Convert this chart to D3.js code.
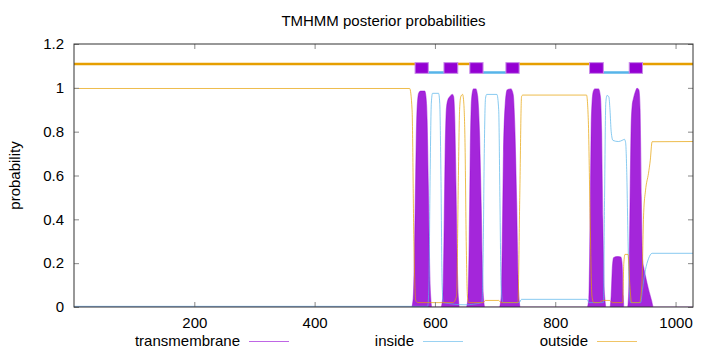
<!DOCTYPE html>
<html>
<head>
<meta charset="utf-8">
<script src="https://cdn.jsdelivr.net/npm/d3@7"></script>
<style>
  body { margin: 0; background: #fff; }
  text { font-family: "Liberation Sans", Arial, sans-serif; }
</style>
</head>
<body>
<div id="chart"></div>
<script>
// posterior probabilities, [residue, probability]
const tmProb = [
  [0, 0], [561, 0], [564, 0.04], [566, 0.25], [568, 0.6], [570, 0.88], [573, 0.975], [576, 0.985], [583, 0.985],
  [585, 0.96], [587, 0.85], [589, 0.55], [591, 0.2], [593, 0.04], [595, 0],
  [610, 0], [613, 0.04], [615, 0.3], [617, 0.7], [619, 0.9], [621, 0.94], [625, 0.96], [629, 0.97], [631, 0.96],
  [633, 0.85], [635, 0.55], [637, 0.2], [639, 0.04], [641, 0],
  [652, 0], [655, 0.04], [657, 0.3], [659, 0.75], [661, 0.95], [664, 0.995], [668, 0.995], [671, 0.96],
  [674, 0.8], [677, 0.45], [679, 0.15], [681, 0.03], [683, 0],
  [707, 0], [710, 0.04], [712, 0.3], [714, 0.7], [717, 0.93], [720, 0.99], [726, 0.995], [730, 0.97],
  [733, 0.8], [736, 0.45], [738, 0.15], [740, 0.03], [742, 0],
  [853, 0], [856, 0.04], [858, 0.4], [860, 0.85], [863, 0.98], [866, 0.995], [872, 0.995], [875, 0.96],
  [877, 0.8], [879, 0.4], [881, 0.1], [883, 0.02], [884, 0],
  [891, 0], [893, 0.05], [895, 0.18], [897, 0.225], [903, 0.23], [909, 0.228], [911, 0.2], [913, 0.05], [914, 0],
  [920, 0], [922, 0.05], [924, 0.4], [926, 0.8], [928, 0.92], [930, 0.95], [933, 0.98], [936, 0.998], [939, 0.99],
  [941, 0.9], [943, 0.5], [945, 0.22], [947, 0.18], [950, 0.14], [955, 0.08], [960, 0.03], [963, 0], [1029, 0]
];

const insideProb = [
  [0, 0.003], [588, 0.003], [590, 0.1], [592, 0.6], [594, 0.93], [596, 0.975], [606, 0.975], [608, 0.93],
  [610, 0.6], [612, 0.1], [614, 0.02], [650, 0.01], [678, 0.02], [680, 0.2], [682, 0.7], [684, 0.95],
  [686, 0.97], [703, 0.97], [706, 0.9], [708, 0.5], [710, 0.1], [713, 0.02], [740, 0.02], [744, 0.035],
  [853, 0.035], [856, 0.02], [880, 0.02], [882, 0.5], [884, 0.93], [886, 0.965], [889, 0.96], [891, 0.9],
  [893, 0.8], [896, 0.76], [905, 0.755], [911, 0.76], [915, 0.765], [917, 0.75], [919, 0.6], [921, 0.3],
  [923, 0.1], [925, 0.02], [942, 0.02], [945, 0.08], [950, 0.17], [955, 0.22], [961, 0.245], [1029, 0.245]
];

const outsideProb = [
  [0, 0.997], [558, 0.997], [562, 0.9], [565, 0.3], [568, 0.03], [572, 0.02], [630, 0.02], [636, 0.05],
  [639, 0.6], [641, 0.9], [643, 0.96], [646, 0.97], [648, 0.93], [650, 0.75], [652, 0.3], [654, 0.05],
  [656, 0.02], [680, 0.02], [684, 0.03], [706, 0.03], [710, 0.02], [738, 0.02], [741, 0.5], [744, 0.96],
  [746, 0.967], [852, 0.967], [855, 0.85], [858, 0.4], [861, 0.05], [864, 0.02], [872, 0.02], [880, 0.03],
  [890, 0.03], [895, 0.02], [912, 0.02], [914, 0.2], [916, 0.24], [921, 0.24], [924, 0.1], [927, 0.02],
  [940, 0.02], [944, 0.1], [947, 0.43], [950, 0.53], [955, 0.61], [958, 0.67], [961, 0.754], [1029, 0.755]
];

// predicted topology, [start, end] residues
const tmSegments = [[567, 589], [615, 638], [658, 680], [718, 740], [857, 880], [923, 945]];
const insideSegments = [[589, 615], [680, 718], [880, 923]];
const outsideSegments = [[0, 567], [638, 658], [740, 857], [945, 1029]];

const xTicks = [200, 400, 600, 800, 1000];
const yTicks = [0, 0.2, 0.4, 0.6, 0.8, 1, 1.2];

const legendItems = [
  { name: "transmembrane", color: "#9400d3" },
  { name: "inside", color: "#56b4e9" },
  { name: "outside", color: "#e69f00" }
];

const width = 720, height = 352;
const margin = { top: 44, right: 27, bottom: 45, left: 74 };
const fontSize = 15;

const svg = d3.select("#chart").append("svg")
  .attr("width", width)
  .attr("height", height);

const x = d3.scaleLinear().domain([0, 1029]).range([margin.left, width - margin.right]);
const y = d3.scaleLinear().domain([0, 1.2]).range([height - margin.bottom, margin.top]);

svg.append("clipPath").attr("id", "clip")
  .append("rect")
  .attr("x", margin.left).attr("y", margin.top)
  .attr("width", x.range()[1] - margin.left)
  .attr("height", y.range()[0] - margin.top);

const line = d3.line().x(d => x(d[0])).y(d => y(d[1])).curve(d3.curveMonotoneX);
const area = d3.area().x(d => x(d[0])).y0(y(0)).y1(d => y(d[1])).curve(d3.curveMonotoneX);

const curves = svg.append("g").attr("clip-path", "url(#clip)");

curves.append("path")
  .attr("d", area(tmProb))
  .attr("fill", "#9400d3")
  .attr("fill-opacity", 0.85)
  .attr("stroke", "#9400d3")
  .attr("stroke-opacity", 0.45)
  .attr("stroke-width", 1.2);

curves.append("path")
  .attr("d", line(insideProb))
  .attr("fill", "none")
  .attr("stroke", "#56b4e9")
  .attr("stroke-opacity", 0.7)
  .attr("stroke-width", 1);

curves.append("path")
  .attr("d", line(outsideProb))
  .attr("fill", "none")
  .attr("stroke", "#e69f00")
  .attr("stroke-opacity", 0.7)
  .attr("stroke-width", 1);

// topology track above the curves
curves.selectAll(".out").data(outsideSegments).join("line")
  .attr("x1", d => x(d[0])).attr("x2", d => x(d[1]))
  .attr("y1", y(1.109)).attr("y2", y(1.109))
  .attr("stroke", "#e69f00").attr("stroke-width", 2.5);

curves.selectAll(".in").data(insideSegments).join("line")
  .attr("x1", d => x(d[0])).attr("x2", d => x(d[1]))
  .attr("y1", y(1.07)).attr("y2", y(1.07))
  .attr("stroke", "#56b4e9").attr("stroke-width", 2.5);

curves.selectAll(".tm").data(tmSegments).join("rect")
  .attr("x", d => x(d[0]))
  .attr("width", d => x(d[1]) - x(d[0]))
  .attr("y", y(1.115))
  .attr("height", y(1.066) - y(1.115))
  .attr("fill", "#9400d3")
  .attr("stroke", "#c88ae8")
  .attr("stroke-width", 1);

// axes with inward ticks, mirrored
const fmt = d => String(+d.toFixed(1));
const tickStyle = g => {
  g.select(".domain").remove();
  g.selectAll(".tick line").attr("stroke", "#888");
  g.selectAll("text").attr("font-size", fontSize).attr("fill", "#000");
};

svg.append("g")
  .attr("transform", `translate(${margin.left},0)`)
  .call(d3.axisLeft(y).tickValues(yTicks).tickFormat(fmt).tickSize(-5).tickPadding(10))
  .call(tickStyle);

svg.append("g")
  .attr("transform", `translate(${x.range()[1]},0)`)
  .call(d3.axisRight(y).tickValues(yTicks).tickFormat("").tickSize(-5))
  .call(tickStyle);

svg.append("g")
  .attr("transform", `translate(0,${y(0)})`)
  .call(d3.axisBottom(x).tickValues(xTicks).tickFormat(d3.format("d")).tickSize(-5).tickPadding(10))
  .call(tickStyle);

svg.append("g")
  .attr("transform", `translate(0,${margin.top})`)
  .call(d3.axisTop(x).tickValues(xTicks).tickFormat("").tickSize(-5))
  .call(tickStyle);

svg.append("rect")
  .attr("x", margin.left).attr("y", margin.top)
  .attr("width", x.range()[1] - margin.left)
  .attr("height", y(0) - margin.top)
  .attr("fill", "none")
  .attr("stroke", "#333")
  .attr("stroke-width", 1);

svg.append("text")
  .attr("x", (x.range()[0] + x.range()[1]) / 2)
  .attr("y", 26)
  .attr("text-anchor", "middle")
  .attr("font-size", fontSize)
  .text("TMHMM posterior probabilities");

svg.append("text")
  .attr("transform", `translate(20,${(y(0) + y(1.2)) / 2}) rotate(-90)`)
  .attr("text-anchor", "middle")
  .attr("font-size", fontSize)
  .text("probability");

// legend
const legendX = [240, 414, 588];
const legend = svg.append("g").selectAll("g").data(legendItems).join("g")
  .attr("transform", (d, i) => `translate(${legendX[i]},346)`);

legend.append("text")
  .attr("text-anchor", "end")
  .attr("font-size", fontSize)
  .text(d => d.name);

legend.append("line")
  .attr("x1", 9).attr("x2", 49)
  .attr("y1", -4.5).attr("y2", -4.5)
  .attr("stroke", d => d.color)
  .attr("stroke-opacity", 0.6)
  .attr("stroke-width", 1);
</script>
</body>
</html>
